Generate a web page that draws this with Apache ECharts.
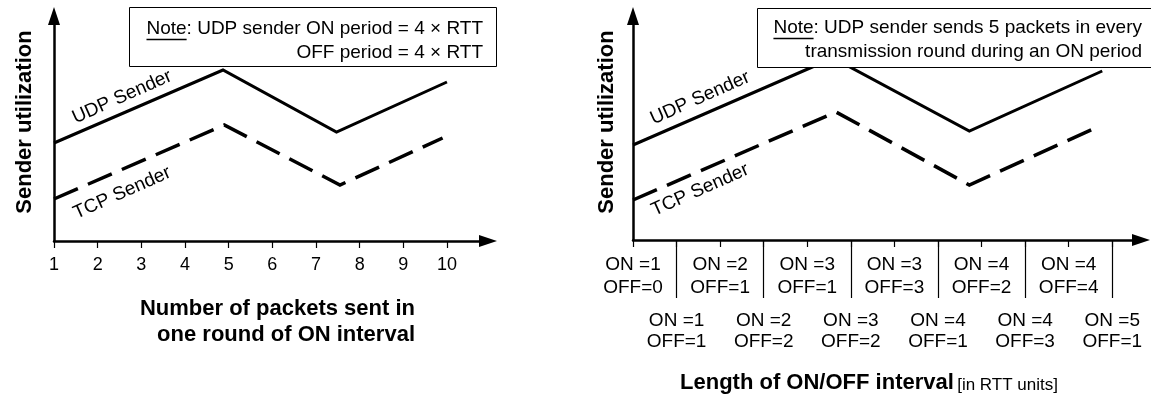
<!DOCTYPE html>
<html>
<head>
<meta charset="utf-8">
<script src="https://cdn.jsdelivr.net/npm/echarts@6/dist/echarts.min.js"></script>
<style>
  html, body { margin: 0; padding: 0; background: #fff; }
  #chart { width: 1151px; height: 395px; }
</style>
</head>
<body>
<div id="chart"></div>
<script>
  // left panel: number of packets sent per round
  const packetTicks = [1, 2, 3, 4, 5, 6, 7, 8, 9, 10];
  const udpByPackets = [[1, 98], [4.87, 171], [7.47, 109], [10.0, 159]];
  const tcpByPackets = [[1, 42], [4.9, 116], [7.55, 56], [9.9, 103]];

  // right panel: ON/OFF interval lengths (RTT units)
  const onLengths = [1, 1, 2, 2, 3, 3, 3, 4, 4, 4, 4, 5];
  const offLengths = [0, 1, 1, 2, 1, 2, 3, 1, 2, 3, 4, 1];
  const udpByOnOff = [[0, 95], [4.59, 182], [7.72, 109], [10.77, 169]];
  const tcpByOnOff = [[0, 40], [4.66, 128], [7.72, 55], [10.56, 111]];

  const FONT = '"Liberation Sans", Arial, Helvetica, sans-serif';
  const onOffIdx = onLengths.map((_, i) => i);
  const upperIdx = onOffIdx.filter((i) => i % 2 === 0);
  const lowerIdx = onOffIdx.filter((i) => i % 2 === 1);
  const onOffText = (value) => {
    const i = Math.round(value);
    return 'ON =' + onLengths[i] + '\nOFF=' + offLengths[i];
  };

  const note1 = ['Note: UDP sender ON period = 4 \u00d7 RTT', 'OFF period = 4 \u00d7 RTT'];
  const note2 = ['Note: UDP sender sends 5 packets in every', 'transmission round during an ON period'];

  // measure text so the "Note" underline sits under the word
  const ctx = document.createElement('canvas').getContext('2d');
  ctx.font = '19px ' + FONT;
  const noteW = ctx.measureText('Note').width;
  const w1 = ctx.measureText(note1[0]).width;
  const w2 = ctx.measureText(note2[0]).width;

  const arrowLine = {
    show: true,
    onZero: false,
    symbol: ['none', 'triangle'],
    symbolSize: [12, 18],
    lineStyle: { color: '#000', width: 2.5 },
  };

  const yAxisBase = {
    type: 'value',
    min: 0,
    axisLine: arrowLine,
    axisTick: { show: false },
    axisLabel: { show: false },
    splitLine: { show: false },
  };

  const udpStyle = { color: '#000', width: 3, join: 'miter' };
  const tcpStyle = { color: '#000', width: 3.5, type: [26, 11], join: 'miter' };

  const senderLabel = (text, coord) => ({
    symbol: 'circle',
    symbolSize: 0,
    silent: true,
    label: {
      show: true,
      position: 'inside',
      formatter: text,
      rotate: 24,
      color: '#000',
      fontSize: 19,
      fontFamily: FONT,
    },
    data: [{ coord: coord }],
  });

  const myChart = echarts.init(document.getElementById('chart'), null, { renderer: 'canvas' });

  myChart.setOption({
    animation: false,
    backgroundColor: '#fff',
    textStyle: { fontFamily: FONT },
    grid: [
      { left: 54, top: 16, width: 434, height: 225, containLabel: false, outerBoundsMode: 'none' },
      { left: 633, top: 16, width: 508, height: 224, containLabel: false, outerBoundsMode: 'none' },
    ],
    xAxis: [
      {
        type: 'value',
        gridIndex: 0,
        min: 1,
        max: 10.94,
        axisLine: arrowLine,
        axisTick: {
          show: true,
          customValues: packetTicks,
          length: 7,
          lineStyle: { color: '#000', width: 1.2 },
        },
        axisLabel: {
          customValues: packetTicks,
          showMinLabel: true,
          showMaxLabel: true,
          margin: 15,
          color: '#000',
          fontSize: 18,
          fontFamily: FONT,
        },
        splitLine: { show: false },
      },
      {
        // upper row of ON/OFF labels + short ticks
        type: 'value',
        gridIndex: 1,
        min: 0,
        max: 11.66,
        axisLine: arrowLine,
        axisTick: {
          show: true,
          customValues: onOffIdx,
          length: 7,
          lineStyle: { color: '#000', width: 1.2 },
        },
        axisLabel: {
          customValues: upperIdx,
          showMinLabel: true,
          showMaxLabel: true,
          margin: 13.5,
          color: '#000',
          fontSize: 19,
          lineHeight: 23,
          fontFamily: FONT,
          formatter: onOffText,
        },
        splitLine: { show: false },
      },
      {
        // lower row of labels + long separators between upper-row labels
        type: 'value',
        gridIndex: 1,
        position: 'bottom',
        offset: 0,
        min: 0,
        max: 11.66,
        axisLine: { show: false },
        axisTick: {
          show: true,
          customValues: lowerIdx,
          length: 58,
          lineStyle: { color: '#000', width: 1.2 },
        },
        axisLabel: {
          customValues: lowerIdx,
          showMinLabel: true,
          showMaxLabel: true,
          margin: 70.5,
          color: '#000',
          fontSize: 19,
          lineHeight: 21,
          fontFamily: FONT,
          formatter: onOffText,
        },
        splitLine: { show: false },
      },
    ],
    yAxis: [
      Object.assign({}, yAxisBase, { gridIndex: 0, max: 225 }),
      Object.assign({}, yAxisBase, { gridIndex: 1, max: 224 }),
    ],
    series: [
      {
        name: 'UDP Sender',
        type: 'line',
        xAxisIndex: 0,
        yAxisIndex: 0,
        data: udpByPackets,
        symbol: 'none',
        lineStyle: udpStyle,
        markPoint: senderLabel('UDP Sender', [2.56, 144]),
      },
      {
        name: 'TCP Sender',
        type: 'line',
        xAxisIndex: 0,
        yAxisIndex: 0,
        data: tcpByPackets,
        symbol: 'none',
        lineStyle: tcpStyle,
        markPoint: senderLabel('TCP Sender', [2.56, 48]),
      },
      {
        name: 'UDP Sender',
        type: 'line',
        xAxisIndex: 1,
        yAxisIndex: 1,
        data: udpByOnOff,
        symbol: 'none',
        lineStyle: udpStyle,
        markPoint: senderLabel('UDP Sender', [1.54, 142]),
      },
      {
        name: 'TCP Sender',
        type: 'line',
        xAxisIndex: 1,
        yAxisIndex: 1,
        data: tcpByOnOff,
        symbol: 'none',
        lineStyle: tcpStyle,
        markPoint: senderLabel('TCP Sender', [1.54, 50]),
      },
    ],
    graphic: [
      // axis titles
      {
        type: 'text', x: 25, y: 122, rotation: Math.PI / 2, z: 10,
        style: { text: 'Sender utilization', font: 'bold 22px ' + FONT, fill: '#000', textAlign: 'center', textVerticalAlign: 'middle' },
      },
      {
        type: 'text', x: 607, y: 122, rotation: Math.PI / 2, z: 10,
        style: { text: 'Sender utilization', font: 'bold 22px ' + FONT, fill: '#000', textAlign: 'center', textVerticalAlign: 'middle' },
      },
      {
        type: 'text', x: 415, y: 296, z: 10,
        style: {
          text: 'Number of packets sent in\none round of ON interval',
          font: 'bold 22px ' + FONT, fill: '#000', textAlign: 'right', textVerticalAlign: 'top', lineHeight: 26,
        },
      },
      {
        type: 'text', x: 869, y: 383, z: 10,
        style: {
          text: '{b|Length of ON/OFF interval} {r|[in RTT units]}',
          textAlign: 'center', textVerticalAlign: 'middle',
          rich: {
            b: { font: 'bold 22px ' + FONT, fill: '#000', lineHeight: 26 },
            r: { font: '17px ' + FONT, fill: '#000', lineHeight: 26, verticalAlign: 'bottom', padding: [0, 0, 2, 0] },
          },
        },
      },
      // note boxes
      {
        type: 'rect', z: 10,
        shape: { x: 129.5, y: 7.5, width: 367, height: 59 },
        style: { fill: '#fff', stroke: '#000', lineWidth: 1 },
      },
      {
        type: 'text', x: 483, y: 17, z: 11,
        style: { text: note1.join('\n'), font: '19px ' + FONT, fill: '#000', textAlign: 'right', textVerticalAlign: 'top', lineHeight: 24 },
      },
      {
        type: 'line', z: 11,
        shape: { x1: 483 - w1, y1: 39.5, x2: 483 - w1 + noteW, y2: 39.5 },
        style: { stroke: '#000', lineWidth: 1.3 },
      },
      {
        type: 'rect', z: 10,
        shape: { x: 757.5, y: 8.5, width: 400, height: 59 },
        style: { fill: '#fff', stroke: '#000', lineWidth: 1 },
      },
      {
        type: 'text', x: 1142, y: 16, z: 11,
        style: { text: note2.join('\n'), font: '19px ' + FONT, fill: '#000', textAlign: 'right', textVerticalAlign: 'top', lineHeight: 24 },
      },
      {
        type: 'line', z: 11,
        shape: { x1: 1142 - w2, y1: 38.5, x2: 1142 - w2 + noteW, y2: 38.5 },
        style: { stroke: '#000', lineWidth: 1.3 },
      },
    ],
  });

  window.addEventListener('resize', function () {
    myChart && myChart.resize();
  });
</script>
</body>
</html>
